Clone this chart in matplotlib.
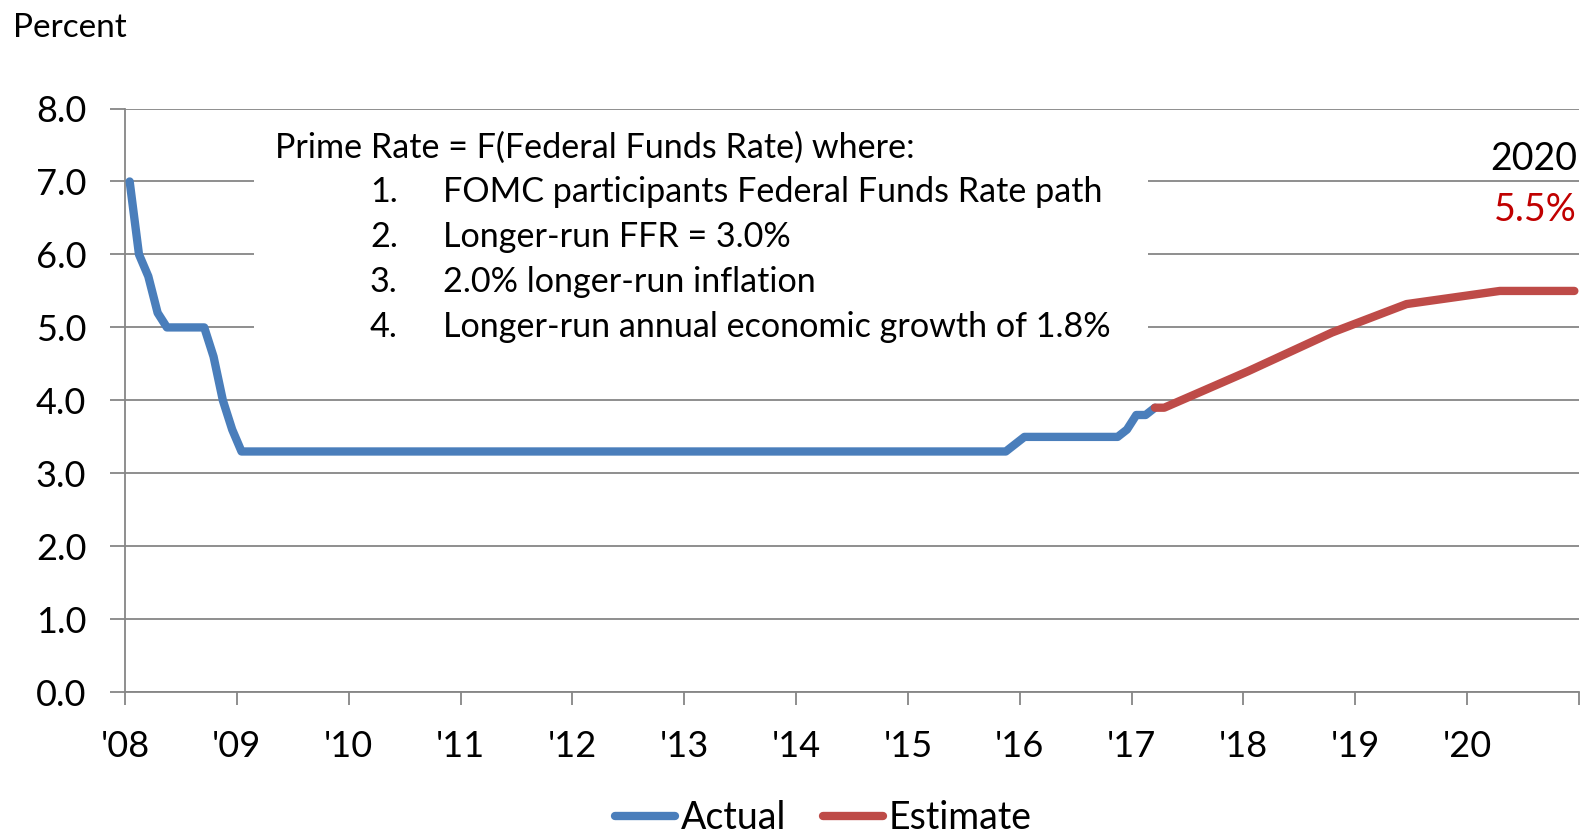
import matplotlib.pyplot as plt
from matplotlib.patches import Rectangle

# prime rate, monthly points where the path changes (YYYY-MM, percent)
actual_months = ['2008-01', '2008-02', '2008-03', '2008-04', '2008-05', '2008-09',
                 '2008-10', '2008-11', '2008-12', '2009-01', '2015-11', '2015-12',
                 '2016-01', '2016-11', '2016-12', '2017-01', '2017-02', '2017-03']
actual_rate = [7.0, 6.0, 5.7, 5.2, 5.0, 5.0,
               4.6, 4.0, 3.6, 3.3, 3.3, 3.4,
               3.5, 3.5, 3.6, 3.8, 3.8, 3.9]

estimate_months = ['2017-03', '2017-04', '2018-01', '2018-10', '2019-06', '2020-04', '2020-12']
estimate_rate = [3.9, 3.9, 4.4, 4.93, 5.32, 5.5, 5.5]

year_ticks = list(range(2008, 2022))
year_labels = ["'08", "'09", "'10", "'11", "'12", "'13", "'14", "'15", "'16", "'17",
               "'18", "'19", "'20", ""]
y_ticks = [0, 1, 2, 3, 4, 5, 6, 7, 8]

notes_title = 'Prime Rate = F(Federal Funds Rate) where:'
notes = ['FOMC participants Federal Funds Rate path',
         'Longer-run FFR = 3.0%',
         '2.0% longer-run inflation',
         'Longer-run annual economic growth of 1.8%']


def to_year(months):
    # mid-month position on a year axis
    out = []
    for m in months:
        y, mo = m.split('-')
        out.append(int(y) + (int(mo) - 0.5) / 12)
    return out


plt.rcParams['font.family'] = ['Lato', 'DejaVu Sans']
W, H = 1581, 836
fig = plt.figure(figsize=(W / 100, H / 100), dpi=100)
ax = fig.add_axes([125 / W, 1 - 692.3 / H, 1454 / W, (692.3 - 108.5) / H])

grey = '#868686'
blue = '#4A7EBB'
red = '#BE4B48'

ax.plot(to_year(actual_months), actual_rate, color=blue, lw=6,
        solid_capstyle='round', solid_joinstyle='round', zorder=3, label='Actual')
ax.plot(to_year(estimate_months), estimate_rate, color=red, lw=6,
        solid_capstyle='round', solid_joinstyle='round', zorder=3, label='Estimate')

ax.set_xlim(2008, 2021)
ax.set_ylim(0, 8)
ax.set_xticks(year_ticks)
ax.set_xticklabels(year_labels)
ax.set_yticks(y_ticks)
ax.set_yticklabels(['%.1f' % v for v in y_ticks])

ax.set_axisbelow(True)
ax.grid(axis='y', color=grey, lw=1.3)
for s in ['top', 'right']:
    ax.spines[s].set_visible(False)
for s in ['left', 'bottom']:
    ax.spines[s].set_color(grey)
    ax.spines[s].set_linewidth(1.3)
ax.tick_params(axis='y', direction='out', length=10.8, width=1.3, color=grey,
               labelsize=26, pad=17)
ax.tick_params(axis='x', direction='out', length=9.4, width=1.3, color=grey,
               labelsize=26, pad=18)

# white box behind the notes hides the gridlines
box = Rectangle((254 / 100, (H - 350) / 100), (1148 - 254) / 100, (350 - 115) / 100,
                transform=fig.dpi_scale_trans, facecolor='white',
                edgecolor='none', zorder=1)
ax.add_patch(box)
box.set_transform(fig.dpi_scale_trans)


def fig_text(x, y, s, **kw):
    fig.text(x / W, 1 - y / H, s, va='baseline', **kw)


fig_text(13, 36.7, 'Percent', fontsize=24)
fig_text(275, 158.3, notes_title, fontsize=24.6)
for i, line in enumerate(notes):
    yb = 202.5 + 44.7 * i
    fig_text(370, yb, '%d.' % (i + 1), fontsize=24.6)
    fig_text(443, yb, line, fontsize=24.6)

fig_text(1577, 170, '2020', fontsize=27, ha='right')
fig_text(1577, 221, '5.5%', fontsize=27, ha='right', color='#C00000')

fig.legend(loc='lower center', bbox_to_anchor=(823.5 / W, 0.0), ncol=2,
           frameon=False, fontsize=27, handlelength=1.6, handletextpad=0.15,
           columnspacing=1.0, borderpad=0, borderaxespad=0)

fig.savefig('out.png', dpi=100)
